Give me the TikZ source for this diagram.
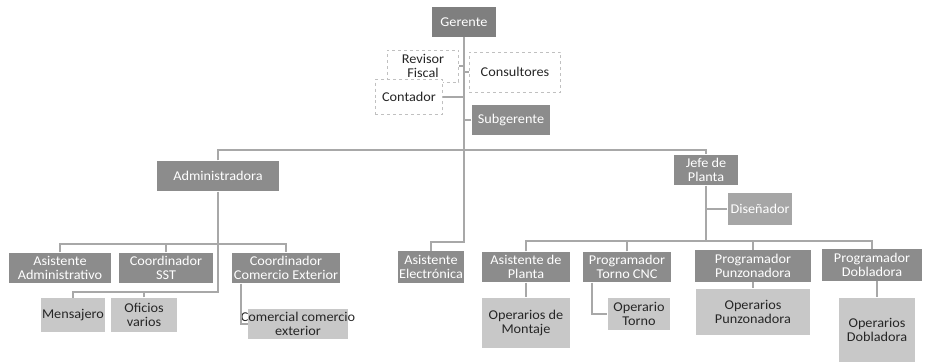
\documentclass[tikz,border=0pt]{standalone}
\usepackage{fontspec}
\setmainfont{Carlito}[FakeStretch=1.06]
\usetikzlibrary{positioning}
\definecolor{boxdark}{HTML}{8C8C8C}
\definecolor{boxtop}{HTML}{7F7F7F}
\definecolor{boxmid}{HTML}{A6A6A6}
\definecolor{boxlight}{HTML}{C8C8C8}
\definecolor{linegray}{HTML}{A8A8A8}
\definecolor{dashgray}{HTML}{C0C0C0}
\begin{document}
\begin{tikzpicture}[x=1bp,y=-1bp,node distance=50bp,
    dark node/.style={rectangle,fill=boxdark,text=white,inner sep=1pt,align=center,font=\fontsize{13.5}{13.5}\selectfont},
    light node/.style={rectangle,fill=boxlight,text=black!85,inner sep=1pt,align=center,font=\fontsize{13.5}{14.5}\selectfont},
    dash node/.style={rectangle,draw=dashgray,dashed,thick,fill=white,text=black!85,inner sep=1pt,align=center,font=\fontsize{13.5}{13.5}\selectfont},
    link/.style={draw=linegray,line width=1.3bp}]
            \useasboundingbox (0,0) rectangle (925,363);

            \node [dark node, fill=boxtop, minimum width=64, minimum height=30](1) at (464,22){Gerente};
            \node [dash node, minimum width=72, minimum height=32](2) at (423,66){Revisor\\Fiscal};
            \node [dash node, minimum width=92, minimum height=40](3) at (515,72){Consultores};
            \node [dash node, minimum width=68, minimum height=35](4) at (409,97){Contador};
            \node [dark node, minimum width=79, minimum height=31](5) at (511,120){Subgerente};

            \node [dark node, minimum width=122, minimum height=31](6) at (218,176){Administradora};
            \node [dark node, minimum width=65, minimum height=31](7) at (706,170){Jefe de\\Planta};
            \node [dark node, fill=boxmid, minimum width=65, minimum height=32](8) at (760,209){Diseñador};

            \node [dark node, minimum width=103, minimum height=31](9) at (60,268){Asistente\\Administrativo};
            \node [dark node, minimum width=94, minimum height=31](10) [right of=9, xshift=56bp]{Coordinador\\SST};
            \node [dark node, minimum width=109, minimum height=31, inner xsep=-2pt](11) [right of=10, xshift=70bp]{Coordinador\\Comercio Exterior};
            \node [dark node, minimum width=66, minimum height=32, inner xsep=-3pt](12) at (431,267){Asistente\\Electrónica};
            \node [dark node, minimum width=89, minimum height=31](13) at (526,267){Asistente de\\Planta};
            \node [dark node, minimum width=89, minimum height=31](14) [right of=13, xshift=51bp]{Programador\\Torno CNC};
            \node [dark node, minimum width=116, minimum height=32](15) at (753,266){Programador\\Punzonadora};
            \node [dark node, minimum width=101, minimum height=32](16) at (872,265){Programador\\Dobladora};

            \node [light node, minimum width=65, minimum height=34, inner xsep=0pt](17) at (73,315){Mensajero};
            \node [light node, minimum width=66, minimum height=35](18) [right of=17, xshift=21bp]{Oficios\\varios};
            \node [light node, minimum width=100, minimum height=31, inner xsep=-8pt](19) at (298,324){Comercial comercio\\exterior};
            \node [light node, minimum width=89, minimum height=51](20) [below of=13, yshift=-6bp]{Operarios de\\Montaje};
            \node [light node, minimum width=63, minimum height=32](21) at (639,314){Operario\\Torno};
            \node [light node, minimum width=115, minimum height=47](22) [below of=15, yshift=4bp]{Operarios\\Punzonadora};
            \node [light node, minimum width=77, minimum height=65](23) at (877,330){Operarios\\Dobladora};

            \coordinate (bar) at (464,150);
            \coordinate (adminbar) at (218,244);
            \coordinate (lowbar) at (218,292);
            \coordinate (plantbar) at (706,241);

            % gerente and staff
            \draw [link] (1.south) |- ([yshift=9bp]12.north) -- (12.north);
            \draw [link] (2.east) -- (2.east -| 1.south);
            \draw [link] (4.east) -- (4.east -| 1.south);
            \draw [link] (3.west) -- (3.west -| 1.south);
            \draw [link] (5.west) -- (5.west -| 1.south);
            \draw [link] (6.north) |- (bar) -| (7.north);

            % administradora
            \draw [link] (6.south) -- (lowbar) -| (17.north);
            \draw [link] (9.north) |- (adminbar) -| (11.north);
            \draw [link] (10.north) -- (10.north |- adminbar);
            \draw [link] (18.north) -- (18.north |- lowbar);
            \draw [link] ([xshift=-45bp]11.south) |- (19.west);

            % jefe de planta
            \draw [link] (7.south) -- (plantbar);
            \draw [link] (8.west) -- (8.west -| 7.south);
            \draw [link] (13.north) |- (plantbar) -| (16.north);
            \draw [link] (14.north) -- (14.north |- plantbar);
            \draw [link] (15.north) -- (15.north |- plantbar);
            \draw [link] (13.south) -- (20.north);
            \draw [link] ([xshift=-35bp]14.south) |- (21.west);
            \draw [link] (15.south) -- (22.north);
            \draw [link] (23.north |- 16.south) -- (23.north);
        \end{tikzpicture}
\end{document}
